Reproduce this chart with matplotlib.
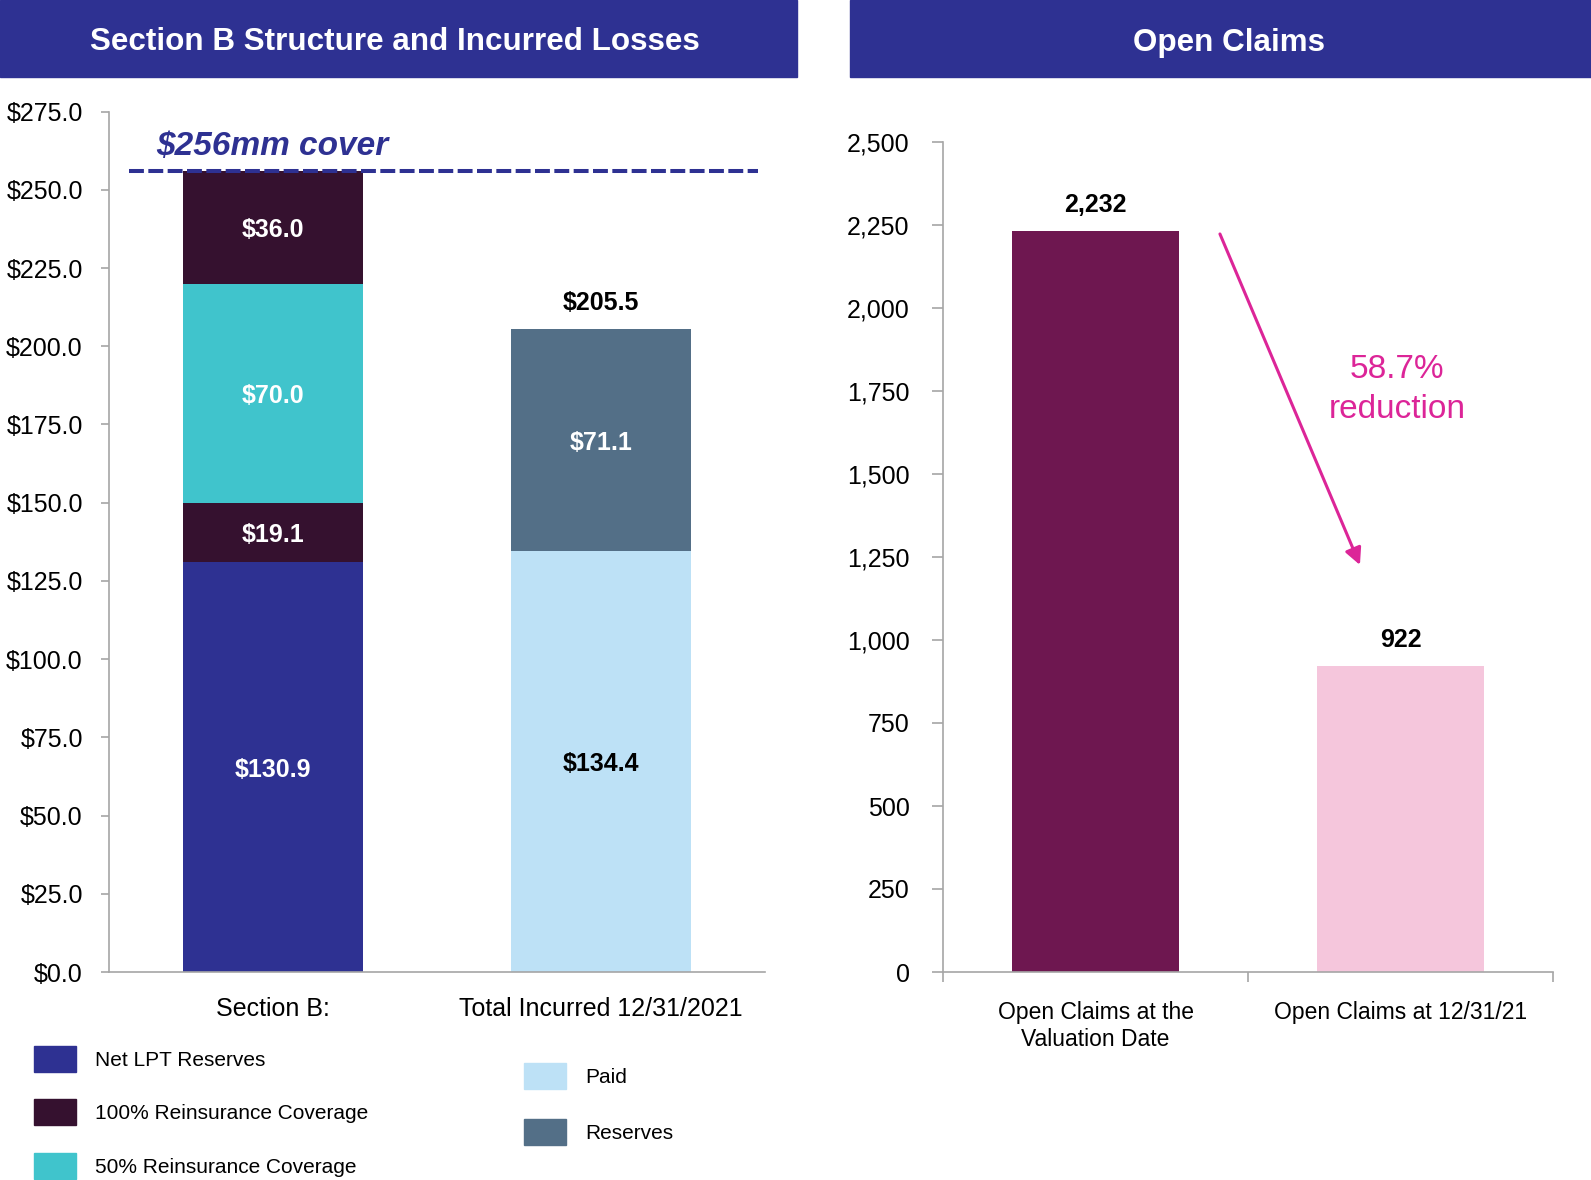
import matplotlib
matplotlib.use('Agg')
import matplotlib.pyplot as plt
from matplotlib.patches import Patch, Rectangle

plt.rcParams['font.family'] = ['Liberation Sans', 'DejaVu Sans']

# data
section_cats = ['Section B:', 'Total Incurred 12/31/2021']
section_b_layers = ['Net LPT Reserves', '100% Reinsurance Coverage',
                    '50% Reinsurance Coverage', '100% Reinsurance Coverage']
section_b_values = [130.9, 19.1, 70.0, 36.0]
incurred_layers = ['Paid', 'Reserves']
incurred_values = [134.4, 71.1]
cover_amount = 256

claims_cats = ['Open Claims at the\nValuation Date', 'Open Claims at 12/31/21']
claims_values = [2232, 922]
reduction_pct = 58.7

# colours
NAVY = '#2E3192'
PLUM = '#35112F'
TEAL = '#40C4CC'
PAID = '#BDE1F6'
RESV = '#536F87'
WINE = '#6E1750'
PINK = '#F5C6DC'
MAGENTA = '#DC2598'
GREY = '#A6A6A6'

section_b_colors = [NAVY, PLUM, TEAL, PLUM]
section_b_text = ['white', 'white', 'white', 'white']
incurred_colors = [PAID, RESV]
incurred_text = ['black', 'white']

W, H = 1591, 1180
fig = plt.figure(figsize=(W / 100, H / 100), dpi=100)

# header banners
for x0, x1, xt, title in [(0, 797, 395, 'Section B Structure and Incurred Losses'),
                          (850, 1591, 1229, 'Open Claims')]:
    fig.patches.append(Rectangle((x0 / W, 1 - 77 / H), (x1 - x0) / W, 77 / H,
                                 transform=fig.transFigure, color=NAVY, zorder=0))
    fig.text(xt / W, 1 - 39 / H, title, color='white', fontsize=22.6,
             fontweight='bold', ha='center', va='center_baseline')

# ---- left panel: stacked bars
ax1 = fig.add_axes([109 / W, 1 - 972 / H, 656 / W, 860.4 / H])
bw = 0.55
bottom = 0
for val, col, tc in zip(section_b_values, section_b_colors, section_b_text):
    ax1.bar(0, val, bw, bottom=bottom, color=col)
    ax1.text(0, bottom + val / 2, f'${val:.1f}', color=tc, fontsize=18,
             fontweight='bold', ha='center', va='center_baseline')
    bottom += val
bottom = 0
for val, col, tc in zip(incurred_values, incurred_colors, incurred_text):
    ax1.bar(1, val, bw, bottom=bottom, color=col)
    ax1.text(1, bottom + val / 2, f'${val:.1f}', color=tc, fontsize=18,
             fontweight='bold', ha='center', va='center_baseline')
    bottom += val
ax1.annotate(f'${sum(incurred_values):.1f}', (1, sum(incurred_values)),
             xytext=(0, 10), textcoords='offset points', ha='center', va='bottom',
             fontsize=18, fontweight='bold')

ax1.axhline(cover_amount, xmin=0.03, xmax=0.99, color=NAVY, lw=2.9,
            linestyle=(0, (3.7, 1.1)))
ax1.text(-0.355, 263.7, f'${cover_amount}mm cover', color=NAVY, fontsize=24,
         fontweight='bold', fontstyle='italic', ha='left', va='center')

ax1.set_xlim(-0.5, 1.5)
ax1.set_ylim(0, 275)
ax1.set_yticks(range(0, 276, 25))
ax1.set_yticklabels([f'${v:.1f}' for v in range(0, 276, 25)])
ax1.set_xticks([0, 1])
ax1.set_xticklabels(section_cats)
ax1.tick_params(axis='x', length=0, pad=18, labelsize=18)
ax1.tick_params(axis='y', length=5.8, width=1.2, color=GREY, pad=13, labelsize=18)
for s in ['top', 'right']:
    ax1.spines[s].set_visible(False)
for s in ['left', 'bottom']:
    ax1.spines[s].set_color(GREY)
    ax1.spines[s].set_linewidth(1.2)

# legends
leg_kw = dict(loc='upper left', frameon=False, fontsize=15, handlelength=2.06,
              handleheight=1.54, handletextpad=0.91, labelspacing=1.32,
              borderpad=0, borderaxespad=0)
fig.legend(handles=[Patch(color=c, label=l) for c, l in
                    zip(section_b_colors[:3], section_b_layers[:3])],
           bbox_to_anchor=(33.5 / W, 1 - 1046 / H), **leg_kw)
fig.legend(handles=[Patch(color=c, label=l) for c, l in
                    zip(incurred_colors, incurred_layers)],
           bbox_to_anchor=(523.5 / W, 1 - 1063 / H), **dict(leg_kw, labelspacing=1.45))

# ---- right panel: open claims
ax2 = fig.add_axes([943 / W, 1 - 972 / H, 610 / W, 830 / H])
ax2.bar([0, 1], claims_values, bw, color=[WINE, PINK])
for i, v in enumerate(claims_values):
    ax2.annotate(f'{v:,}', (i, v), xytext=(0, 10), textcoords='offset points',
                 ha='center', va='bottom', fontsize=18, fontweight='bold')
ax2.annotate('', xy=(0.867, 1226), xytext=(0.408, 2223),
             arrowprops=dict(arrowstyle='-|>', color=MAGENTA, lw=2.2,
                             mutation_scale=25, shrinkA=0, shrinkB=0))
ax2.text(0.99, 1755, f'{reduction_pct}%\nreduction', color=MAGENTA, fontsize=24,
         ha='center', va='center', linespacing=1.35)

ax2.set_xlim(-0.5, 1.5)
ax2.set_ylim(0, 2500)
ax2.set_yticks(range(0, 2501, 250))
ax2.set_yticklabels([f'{v:,}' for v in range(0, 2501, 250)])
ax2.set_xticks([-0.5, 0.5, 1.5])
ax2.set_xticklabels([])
ax2.set_xticks([0, 1], minor=True)
ax2.set_xticklabels(claims_cats, minor=True)
ax2.tick_params(axis='x', which='major', length=7, width=1.2, color=GREY)
ax2.tick_params(axis='x', which='minor', length=0, pad=21, labelsize=16.5)
ax2.tick_params(axis='y', length=8, width=1.2, color=GREY, pad=16, labelsize=18)
for s in ['top', 'right']:
    ax2.spines[s].set_visible(False)
for s in ['left', 'bottom']:
    ax2.spines[s].set_color(GREY)
    ax2.spines[s].set_linewidth(1.2)

fig.savefig('out.png', dpi=100)
